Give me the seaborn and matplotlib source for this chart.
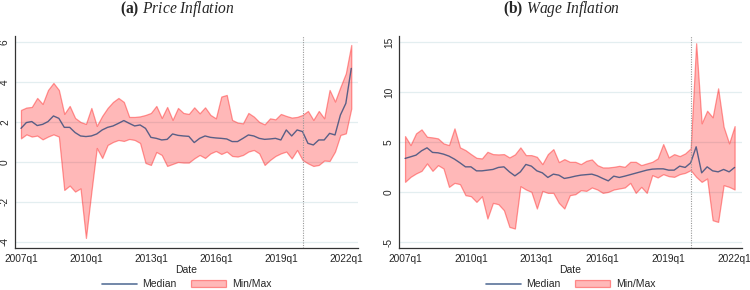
import numpy as np
import pandas as pd
import matplotlib
matplotlib.use("Agg")
import matplotlib.pyplot as plt
import seaborn as sns
from matplotlib.lines import Line2D
from matplotlib.patches import Patch

# quarterly data, 2007q1 onwards
tick_labels = ["2007q1", "2010q1", "2013q1", "2016q1", "2019q1", "2022q1"]
covid_q = "2020q1"

# (a) price inflation, 2007q1-2022q2
price_median = [1.68, 1.97, 2.02, 1.82, 1.88, 2.02, 2.3, 2.18, 1.73, 1.73,
                1.47, 1.3, 1.27, 1.3, 1.4, 1.6, 1.73, 1.8, 1.93, 2.07,
                1.93, 1.8, 1.85, 1.68, 1.23, 1.18, 1.1, 1.13, 1.4, 1.33,
                1.3, 1.28, 0.97, 1.18, 1.3, 1.23, 1.2, 1.18, 1.15, 1.02,
                1.02, 1.18, 1.35, 1.3, 1.18, 1.13, 1.15, 1.18, 1.1, 1.6,
                1.3, 1.6, 1.52, 0.93, 0.85, 1.1, 1.1, 1.43, 1.35, 2.35,
                2.93, 4.68]
price_max = [2.6, 2.72, 2.75, 3.2, 2.9, 3.6, 3.95, 3.6, 2.4, 2.8,
             2.2, 2.0, 1.9, 2.7, 1.8, 2.3, 2.7, 3.0, 3.2, 3.0,
             2.25, 2.25, 2.28, 2.35, 2.45, 2.8, 2.2, 2.75, 2.1, 2.7,
             2.45, 2.4, 2.73, 2.43, 2.73, 2.35, 2.18, 3.27, 3.35, 2.1,
             1.97, 1.93, 2.45, 2.27, 2.0, 1.88, 2.18, 2.13, 2.4, 2.3,
             2.22, 2.25, 2.35, 2.55, 2.1, 2.55, 2.18, 3.6, 3.02, 3.75,
             4.43, 5.85]
price_min = [1.18, 1.38, 1.27, 1.32, 1.13, 1.27, 1.38, 1.27, -1.4, -1.18,
             -1.48, -1.32, -3.8, -1.5, 0.7, 0.2, 0.85, 1.0, 1.1, 1.05,
             1.15, 1.1, 0.95, -0.05, -0.15, 0.5, 0.35, -0.2, -0.1, 0.0,
             -0.03, -0.03, 0.18, 0.35, 0.2, 0.43, 0.55, 0.4, 0.52, 0.3,
             0.27, 0.35, 0.52, 0.6, 0.43, -0.15, 0.1, 0.3, 0.43, 0.52,
             0.18, 0.6, 0.1, -0.07, -0.2, -0.15, 0.07, 0.05, 0.52, 1.35,
             1.43, 2.67]

# (b) wage inflation, 2007q1-2022q1
wage_median = [3.37, 3.53, 3.7, 4.13, 4.43, 3.97, 3.93, 3.8, 3.6, 3.3,
               2.93, 2.53, 2.53, 2.13, 2.13, 2.2, 2.27, 2.47, 2.53, 2.03,
               1.63, 2.03, 2.77, 2.6, 2.13, 1.93, 1.47, 1.8, 1.7, 1.37,
               1.47, 1.6, 1.7, 1.75, 1.8, 1.63, 1.37, 1.13, 1.6, 1.47,
               1.6, 1.75, 1.9, 2.05, 2.2, 2.3, 2.33, 2.33, 2.2, 2.2,
               2.6, 2.47, 2.93, 4.53, 1.93, 2.53, 2.13, 2.03, 2.27, 2.03,
               2.47]
wage_max = [5.6, 4.7, 5.87, 6.27, 5.53, 5.47, 5.37, 4.87, 4.7, 6.37,
            4.47, 4.2, 3.8, 3.43, 3.37, 4.03, 3.8, 3.77, 3.8, 3.47,
            3.77, 4.47, 3.7, 3.7, 3.53, 2.8, 3.8, 4.3, 3.0, 3.3,
            3.03, 3.03, 2.8, 3.13, 3.27, 2.7, 2.47, 2.47, 2.53, 2.63,
            2.53, 3.03, 3.03, 2.7, 2.87, 3.03, 3.37, 4.8, 3.47, 3.8,
            3.6, 3.87, 4.37, 14.87, 6.87, 8.13, 7.47, 10.37, 6.53, 4.87,
            6.6]
wage_min = [1.03, 1.53, 1.87, 2.13, 2.87, 2.13, 2.7, 2.37, 0.53, 0.93,
            0.8, -0.3, -0.4, -0.97, -0.4, -2.63, -1.07, -1.2, -1.8, -3.47,
            -3.63, 0.6, 0.27, 0.03, -1.63, 0.13, -0.07, -0.07, -1.07, -1.63,
            -0.3, -0.2, 0.2, 0.13, 0.47, 0.27, -0.07, 0.03, 0.27, 0.37,
            0.47, 0.93, -0.07, 0.53, -0.07, 1.7, 1.47, 1.8, 1.6, 1.53,
            1.8, 1.93, 2.2, 1.53, 1.03, 1.37, -2.8, -2.97, 0.7, 0.53,
            0.27]


def qnum(label):
    # quarters since 2007q1
    y, q = label.split("q")
    return (int(y) - 2007) * 4 + int(q) - 1


sns.set_style("white")
plt.rcParams["font.family"] = ["Liberation Sans", "DejaVu Sans"]
plt.rcParams["axes.unicode_minus"] = False
plt.rcParams["mathtext.fontset"] = "custom"
plt.rcParams["mathtext.rm"] = "Liberation Serif"
plt.rcParams["mathtext.it"] = "Liberation Serif:italic"
plt.rcParams["mathtext.bf"] = "Liberation Serif:bold"

line_col = (0.10, 0.24, 0.45, 0.72)
fill_col = (1.0, 0.0, 0.0, 0.28)
edge_col = (1.0, 0.2, 0.2, 0.5)
grid_col = "#e3eef0"

fig = plt.figure(figsize=(7.5, 2.9), dpi=100)

panels = [
    dict(median=price_median, lo=price_min, hi=price_max,
         rect=[0.02, 0.145, 0.457, 0.731], ylim=(-4.3, 6.3),
         yticks=[-4, -2, 0, 2, 4, 6], xlim=(-1.1, 62.2),
         title=r"$\mathbf{(a)}$ $\mathit{Price\ Inflation}$", tx=177),
    dict(median=wage_median, lo=wage_min, hi=wage_max,
         rect=[0.532, 0.145, 0.457, 0.731], ylim=(-5.57, 15.6),
         yticks=[-5, 0, 5, 10, 15], xlim=(-1.1, 61.3),
         title=r"$\mathbf{(b)}$ $\mathit{Wage\ Inflation}$", tx=562),
]

for p in panels:
    ax = fig.add_axes(p["rect"])
    df = pd.DataFrame({"q": np.arange(len(p["median"])),
                       "median": p["median"], "lo": p["lo"], "hi": p["hi"]})
    for yt in p["yticks"]:
        ax.axhline(yt, color=grid_col, lw=0.9, zorder=0)
    ax.fill_between(df["q"], df["lo"], df["hi"], facecolor=fill_col,
                    edgecolor=edge_col, lw=0.9, zorder=1)
    sns.lineplot(data=df, x="q", y="median", ax=ax, color=line_col,
                 lw=1.0, zorder=2)
    ax.axvline(qnum(covid_q), color="#999999", lw=0.8, ls=(0, (1, 1.2)),
               zorder=3)

    ax.set_xlim(*p["xlim"])
    ax.set_ylim(*p["ylim"])
    ax.set_xticks([qnum(t) for t in tick_labels])
    ax.set_xticklabels(tick_labels)
    ax.set_yticks(p["yticks"])
    ax.set_yticklabels([str(v) for v in p["yticks"]])
    plt.setp(ax.get_yticklabels(), rotation=90, va="center")
    ax.tick_params(axis="both", labelsize=7.3, length=2.8, width=0.8,
                   color="#333333", direction="out")
    ax.tick_params(axis="x", pad=1.5)
    ax.tick_params(axis="y", pad=0.8)
    ax.set_xlabel("Date", fontsize=7.5, labelpad=1)
    ax.set_ylabel("")
    for s in ["top", "right"]:
        ax.spines[s].set_visible(False)
    for s in ["left", "bottom"]:
        ax.spines[s].set_color("#333333")
        ax.spines[s].set_linewidth(0.9)

    handles = [Line2D([], [], color=line_col, lw=1.2),
               Patch(facecolor=fill_col, edgecolor=edge_col, lw=0.9)]
    ax.legend(handles, ["Median", "Min/Max"], loc="center",
              bbox_to_anchor=(0.5, -0.172), ncol=2, frameon=False,
              fontsize=7.5, handlelength=3.4, handletextpad=0.5,
              columnspacing=1.4, borderpad=0, borderaxespad=0)

    fig.text(p["tx"] / 750, 1 - 9 / 290, p["title"], ha="center",
             va="center", fontsize=11.2)

fig.savefig("out.png", dpi=100)
